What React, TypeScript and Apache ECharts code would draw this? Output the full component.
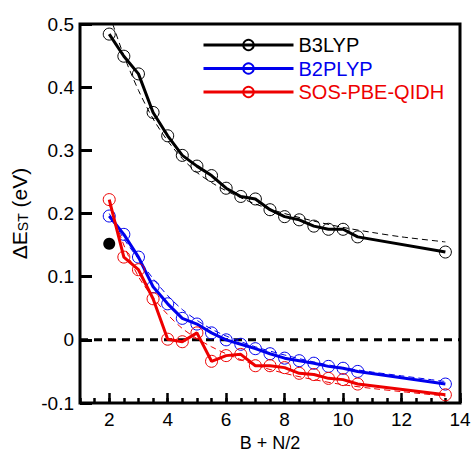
import React, { useEffect, useRef } from "react";
import * as echarts from "echarts";

const xValues = [2, 2.5, 3, 3.5, 4, 4.5, 5, 5.5, 6, 6.5, 7, 7.5, 8, 8.5, 9, 9.5, 10, 10.5, 13.5];
const b3lyp = [0.484, 0.449, 0.421, 0.36, 0.323, 0.292, 0.275, 0.26, 0.24, 0.227, 0.223, 0.206, 0.195, 0.19, 0.18, 0.175, 0.175, 0.163, 0.139];
const b2plyp = [0.196, 0.167, 0.131, 0.084, 0.057, 0.034, 0.025, 0.011, 0.0, -0.007, -0.014, -0.022, -0.029, -0.033, -0.037, -0.042, -0.045, -0.05, -0.07];
const sosPbeQidh = [0.222, 0.131, 0.111, 0.065, 0.001, -0.003, 0.011, -0.034, -0.025, -0.023, -0.041, -0.041, -0.044, -0.053, -0.055, -0.061, -0.063, -0.07, -0.087];

const fitX = [2, 2.5, 3, 3.5, 4, 4.5, 5, 5.5, 6, 7, 8, 9, 10, 11, 12, 13.5];
const b3lypFitX = [2.12, 2.5, 3, 3.5, 4, 4.5, 5, 5.5, 6, 7, 8, 9, 10, 11, 12, 13.5];
const b3lypFit = [0.5, 0.45, 0.395, 0.35, 0.315, 0.287, 0.265, 0.249, 0.236, 0.215, 0.2, 0.188, 0.178, 0.17, 0.163, 0.155];
const b2plypFit = [0.2, 0.16, 0.128, 0.097, 0.07, 0.048, 0.031, 0.017, 0.006, -0.011, -0.024, -0.035, -0.044, -0.051, -0.057, -0.066];
const sosFit = [0.215, 0.15, 0.1, 0.067, 0.04, 0.018, 0.002, -0.011, -0.022, -0.04, -0.053, -0.063, -0.071, -0.077, -0.082, -0.089];

const refPoint = [[2, 0.152]];
const zeroLine = [[1, 0], [14, 0]];

const xTickLabels = [2, 4, 6, 8, 10, 12, 14];

const names = ["B3LYP", "B2PLYP", "SOS-PBE-QIDH"];
const colors = ["#000000", "#0000ee", "#ee0000"];

const FONT = "Liberation Sans, Arial, Helvetica, sans-serif";

const zip = (xs: number[], ys: number[]) => xs.map((x, i) => [x, ys[i]]);

export default function App() {
  const ref = useRef<HTMLDivElement>(null);
  useEffect(() => {
    if (!ref.current) return;
    const chart = echarts.init(ref.current, null, { renderer: "svg" });
    const mainData = [b3lyp, b2plyp, sosPbeQidh];
    const fitData = [zip(b3lypFitX, b3lypFit), zip(fitX, b2plypFit), zip(fitX, sosFit)];

    const series: any[] = [];
    fitData.forEach((d, i) => {
      series.push({
        name: names[i] + " fit",
        type: "line",
        data: d,
        smooth: 0.3,
        symbol: "none",
        lineStyle: { color: colors[i], width: 1, type: [6, 4] },
        z: 2,
      });
    });
    series.push({
      name: "zero",
      type: "line",
      data: zeroLine,
      symbol: "none",
      lineStyle: { color: "#000", width: 3, type: [8, 6] },
      z: 1,
    });
    series.push({
      name: "ref",
      type: "scatter",
      data: refPoint,
      symbol: "circle",
      symbolSize: 12,
      itemStyle: { color: "#000", opacity: 1 },
      z: 3,
    });
    mainData.forEach((d, i) => {
      series.push({
        name: names[i],
        type: "line",
        data: zip(xValues, d),
        symbol: "circle",
        symbolSize: 12,
        itemStyle: { color: "rgba(0,0,0,0)", borderColor: colors[i], borderWidth: 1 },
        lineStyle: { color: colors[i], width: 3 },
        color: colors[i],
        z: 4 + i,
      });
    });

    chart.setOption({
      animation: false,
      textStyle: { fontFamily: FONT },
      grid: {
        left: 80,
        right: 12,
        top: 24,
        bottom: 49,
        show: true,
        borderColor: "#000",
        borderWidth: 3,
        backgroundColor: "transparent",
        outerBoundsMode: "none",
        containLabel: false,
      },
      legend: {
        show: true,
        orient: "vertical",
        left: 197,
        top: 30,
        itemWidth: 90,
        itemHeight: 13,
        itemGap: 3.5,
        lineStyle: { width: 3 },
        data: names.map((n, i) => ({
          name: n,
          textStyle: { color: colors[i], fontSize: 20, lineHeight: 20, fontFamily: FONT },
        })),
        textStyle: { fontSize: 20, lineHeight: 20, fontFamily: FONT },
      },
      xAxis: [
        {
          type: "value",
          min: 1,
          max: 14,
          position: "bottom",
          name: "B + N/2",
          nameLocation: "middle",
          nameGap: 29,
          nameTextStyle: { fontSize: 18, lineHeight: 16, color: "#000", fontFamily: FONT },
          axisLine: { show: false, onZero: false },
          splitLine: { show: false },
          axisTick: {
            show: true,
            inside: true,
            length: 10,
            lineStyle: { color: "#000", width: 2.5 },
            customValues: xTickLabels,
          },
          axisLabel: {
            show: true,
            fontSize: 19,
            color: "#000",
            margin: 7,
            fontFamily: FONT,
            customValues: xTickLabels,
          },
        },
        {
          type: "value",
          min: 1,
          max: 14,
          interval: 0.5,
          position: "bottom",
          axisLine: { show: false, onZero: false },
          splitLine: { show: false },
          axisLabel: { show: false },
          axisTick: { show: true, inside: true, length: 5, lineStyle: { color: "#000", width: 2.5 } },
        },
      ],
      yAxis: {
        type: "value",
        min: -0.1,
        max: 0.5,
        interval: 0.1,
        name: "{a|ΔE}{b|ST}{a| (eV)}",
        nameLocation: "middle",
        nameGap: 48,
        nameRotate: 90,
        nameTextStyle: {
          color: "#000",
          rich: {
            a: { fontSize: 21, color: "#000", fontFamily: FONT, verticalAlign: "bottom" },
            b: { fontSize: 14, color: "#000", fontFamily: FONT, verticalAlign: "bottom", padding: [0, 0, 0, 0] },
          },
        },
        axisLine: { show: false },
        splitLine: { show: false },
        axisTick: { show: true, inside: true, length: 12, lineStyle: { color: "#000", width: 3 } },
        axisLabel: {
          fontSize: 19,
          color: "#000",
          margin: 6,
          fontFamily: FONT,
          formatter: (v: number) => (Math.abs(v) < 1e-9 ? "0" : v.toFixed(1)),
        },
      },
      series,
    });
    return () => chart.dispose();
  }, []);
  return <div ref={ref} style={{ width: 472, height: 452, position: "absolute", left: 0, top: 0 }} />;
}
